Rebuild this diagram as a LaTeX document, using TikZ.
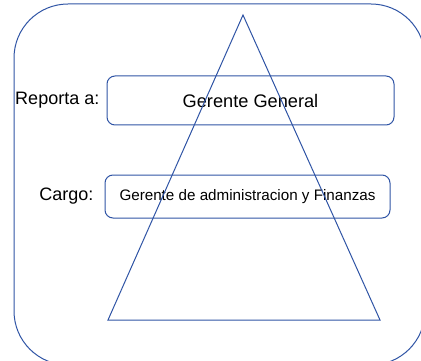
\documentclass[tikz,border=0pt]{standalone}
\usepackage{fontspec}
\setmainfont{Liberation Sans}
\usetikzlibrary{positioning}
\definecolor{marco}{RGB}{47,84,165}

\begin{document}
\begin{tikzpicture}
		[x=1pt, y=-1pt, node distance=7pt,
		caja/.style={draw=marco, line width=1pt, rounded corners=8pt, text centered},
		rotulo/.style={inner sep=0pt, font=\fontsize{18}{20}\selectfont}]
		\useasboundingbox (0,0) rectangle (421,361);
		% frame %
		\draw[marco, line width=1pt, rounded corners=54pt] (14,4) rectangle (425,365);
		% nodes %
		\node[caja, minimum width=287pt, minimum height=49pt, font=\fontsize{18.2}{20}\selectfont] (jefe) at (250.5,100.5) {Gerente General};
		\node[caja, minimum width=285pt, minimum height=43pt, font=\fontsize{15.2}{17}\selectfont] (cargo) at (247.5,196.5) {Gerente de administracion y Finanzas};
		\node[rotulo, left=7pt of jefe] (reporta) {Reporta a:};
		\node[rotulo, left=11pt of cargo] (puesto) {Cargo:};
		% triangle %
		\coordinate (cima) at (243,15);
		\coordinate (izq) at (108,320);
		\coordinate (der) at (380,320);
		\draw[marco, line width=1pt] (cima) -- (izq) -- (der) -- cycle;
		\end{tikzpicture}
\end{document}
